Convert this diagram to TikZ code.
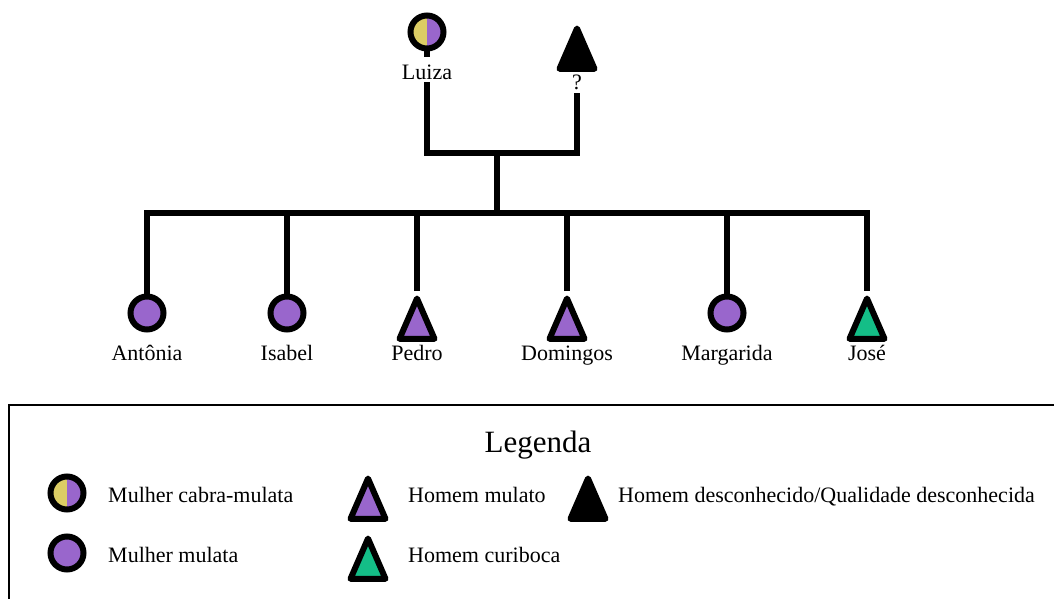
\documentclass[tikz,border=0pt]{standalone}
\usepackage{fontspec}
\setmainfont{Liberation Serif}
\usetikzlibrary{shapes.geometric}
\definecolor{mulata}{HTML}{9966CC}
\definecolor{cabra}{HTML}{DCCD64}
\definecolor{curiboca}{HTML}{14BE87}
\tikzset{
  fem/.style={circle, draw=black, line width=6pt, minimum size=33pt, inner sep=0pt, fill=mulata},
  femcabra/.style={circle, draw=black, line width=6pt, minimum size=33pt, inner sep=0pt,
    path picture={
      \fill[cabra] (path picture bounding box.south west) rectangle (path picture bounding box.north);
      \fill[mulata] (path picture bounding box.south) rectangle (path picture bounding box.north east);}},
  masc/.style={isosceles triangle, isosceles triangle apex angle=47, shape border rotate=90,
    draw=black, line width=6pt, line join=round, minimum size=35pt, inner sep=0pt, anchor=apex, fill=mulata},
  mascc/.style={masc, fill=curiboca},
  mascu/.style={masc, fill=black},
  link/.style={line width=5.5pt, line join=miter},
  pname/.style={font=\fontsize{22}{26}\selectfont, anchor=base, inner sep=2pt},
  legtxt/.style={font=\fontsize{22}{26}\selectfont, anchor=base west, inner sep=0pt},
  legtitle/.style={font=\fontsize{31}{36}\selectfont, anchor=base, inner sep=0pt},
  legbox/.style={line width=2pt},
}
\begin{document}
\begin{tikzpicture}[x=1pt,y=-1pt]
\useasboundingbox (0,0) rectangle (1054,599);
\clip (0,0) rectangle (1054,599);

% parents
\node[femcabra] (luiza) at (427,32) {};
\node[pname] (luizaL) at (427,80) {Luiza};
\node[mascu] (unk) at (577,21) {};
\node[pname] (unkL) at (577,90) {?};
\coordinate (couple) at (497,153);
\coordinate (kids) at (497,213);

% children
\node[fem] (antonia) at (147,313) {};
\node[pname] (antoniaL) at (147,360) {Antônia};
\node[fem] (isabel) at (287,313) {};
\node[pname] (isabelL) at (287,360) {Isabel};
\node[masc] (pedro) at (417,291) {};
\node[pname] (pedroL) at (417,360) {Pedro};
\node[masc] (domingos) at (567,291) {};
\node[pname] (domingosL) at (567,360) {Domingos};
\node[fem] (margarida) at (727,313) {};
\node[pname] (margaridaL) at (727,360) {Margarida};
\node[mascc] (jose) at (867,291) {};
\node[pname] (joseL) at (867,360) {José};

% connectors
\draw[link] (luiza.south) -- ([yshift=6pt]luizaL.north);
\draw[link] (unk.south) -- ([yshift=6pt]unkL.north);
\draw[link] (luizaL.south) -- (luizaL.south |- couple) -- (unkL.south |- couple) -- (unkL.south);
\draw[link] (couple) -- (kids);
\draw[link] (antonia.north) -- (antonia.north |- kids) -- (jose.apex |- kids) -- (jose.apex);
\draw[link] (isabel.north) -- (isabel.north |- kids);
\draw[link] (pedro.apex) -- (pedro.apex |- kids);
\draw[link] (domingos.apex) -- (domingos.apex |- kids);
\draw[link] (margarida.north) -- (margarida.north |- kids);

% legend
\draw[legbox] (8.5,405) rectangle (1070,620);
\node[legtitle] (legtitle) at (538,452) {Legenda};
\node[femcabra] (lg1) at (67,493) {};
\node[legtxt] (lg1t) at (108,502) {Mulher cabra-mulata};
\node[fem] (lg2) at (67,553) {};
\node[legtxt] (lg2t) at (108,562) {Mulher mulata};
\node[masc] (lg3) at (368,471) {};
\node[legtxt] (lg3t) at (408,502) {Homem mulato};
\node[mascc] (lg4) at (368,531) {};
\node[legtxt] (lg4t) at (408,562) {Homem curiboca};
\node[mascu] (lg5) at (588,471) {};
\node[legtxt] (lg5t) at (618,502) {Homem desconhecido/Qualidade desconhecida};
\end{tikzpicture}
\end{document}
